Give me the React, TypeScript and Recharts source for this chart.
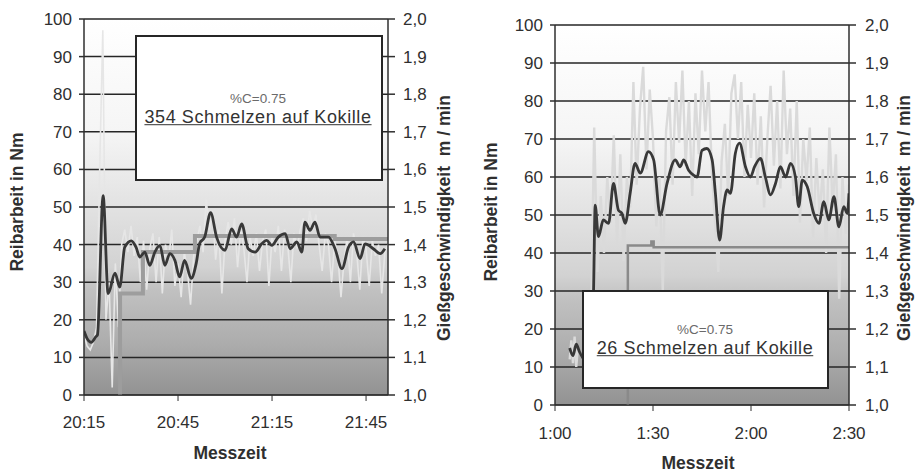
import { ComposedChart, Line, XAxis, YAxis, CartesianGrid } from "recharts";

const FONT = '"Liberation Sans", Arial, sans-serif';
const INK = "#2f2f2f";
const GRID = "#262626";
const TORQUE = "#383838";

const NM_TICKS = [0, 10, 20, 30, 40, 50, 60, 70, 80, 90, 100];
const SPEED_TICKS = [1.0, 1.1, 1.2, 1.3, 1.4, 1.5, 1.6, 1.7, 1.8, 1.9, 2.0];
const TIME_TICKS = [0, 30, 60, 90];

// Panel 1: minutes after 20:15
const A_LABELS = ["20:15", "20:45", "21:15", "21:45"];
const A_TORQUE_T = [0, 1, 2.3, 3.8, 4.3, 6.1, 7.7, 9.9, 11.4, 13, 15.1, 16.6, 17.8, 19.4, 21, 22.6, 24.2, 25.8, 27.4, 29, 30.5, 32.1, 34.2, 35.8, 36.9, 38.5, 40.4, 42.3, 45, 47.1, 48.7, 50.3, 52.4, 54.6, 56.7, 58.3, 59.9, 62, 64.2, 65.8, 67.9, 69.5, 70.5, 72.1, 73.7, 75.3, 78, 80.1, 82.3, 84.4, 86, 88.1, 89.7, 92.3, 94.5, 96];
const A_TORQUE = [17, 15, 14, 15.5, 16, 53, 27, 32.4, 28.7, 39.3, 41, 39.3, 36.7, 38, 34.5, 38, 39.8, 34.5, 37.6, 35.8, 31.4, 35.8, 31, 35, 40.3, 42, 48.5, 42, 38.5, 44.2, 42, 45.5, 38.9, 38, 40.2, 41.1, 39.8, 42, 42.9, 38.9, 40.7, 38, 46, 43.8, 46, 42, 42, 38.9, 33.6, 39.3, 40.7, 36.3, 40.2, 38.9, 37.6, 38.9];
const A_RAW_T = [0, 1, 2, 3, 4, 5, 6, 7, 8, 9, 10, 11, 12, 13, 14, 15, 16, 17, 18, 19, 20, 21, 22, 23, 24, 25, 26, 27, 28, 29, 30, 31, 32, 33, 34, 35, 36, 37, 38, 39, 40, 41, 42, 43, 44, 45, 46, 47, 48, 49, 50, 51, 52, 53, 54, 55, 56, 57, 58, 59, 60, 61, 62, 63, 64, 65, 66, 67, 68, 69, 70, 71, 72, 73, 74, 75, 76, 77, 78, 79, 80, 81, 82, 83, 84, 85, 86, 87, 88, 89, 90, 91, 92, 93, 94, 95, 96, 97];
const A_RAW = [16, 13, 12, 14, 18, 60, 97, 20, 30, 2, 35, 18, 40, 44, 38, 45, 37, 42, 30, 41, 28, 39, 43, 30, 42, 27, 40, 36, 44, 29, 35, 26, 38, 33, 24, 37, 41, 45, 38, 52, 44, 49, 36, 44, 27, 41, 46, 40, 47, 34, 44, 39, 30, 42, 37, 43, 33, 41, 44, 29, 42, 38, 45, 33, 44, 40, 30, 43, 39, 44, 47, 41, 49, 44, 48, 40, 33, 43, 40, 30, 41, 37, 26, 36, 42, 30, 43, 38, 28, 42, 39, 29, 41, 37, 40, 27, 38, 40];
const A_SPEED_T = [0, 11.5, 18.8, 35.4, 80, 97];
const A_SPEED = [0.9, 1.27, 1.38, 1.423, 1.415, 1.415];

// Panel 2: minutes after 1:00
const B_LABELS = ["1:00", "1:30", "2:00", "2:30"];
const B_TORQUE_T = [4.5, 5.5, 6.5, 7.5, 9, 11, 11.8, 12.3, 13.3, 14.8, 16.4, 17.9, 19.4, 20.5, 21.5, 23, 24.5, 26.1, 28.6, 30.2, 32.2, 34.3, 36.8, 38.3, 39.4, 40.9, 42.4, 43.5, 45, 46.5, 48.1, 49.1, 50.4, 51.6, 52.7, 53.7, 55.2, 56.5, 58.3, 59.8, 61.1, 62.9, 64.4, 66, 67.5, 69, 70.6, 72.1, 73.6, 74.6, 75.7, 77.2, 79.2, 80.8, 82.3, 83.8, 85.4, 86.9, 88.4, 89.5, 90];
const B_TORQUE = [15, 13, 16, 14, 12, 12, 30, 52.6, 44.3, 48.7, 47.8, 58.3, 51.3, 50.4, 47.8, 55.7, 63.6, 61, 66.7, 64.5, 50, 58.3, 64.5, 62.7, 64.5, 61.8, 60.5, 60, 67, 67.5, 64.5, 55.7, 43.4, 52.2, 56.6, 55.7, 66.2, 68.9, 62.7, 60, 62.7, 64.9, 60, 55.3, 58.3, 62.7, 60, 63.6, 60, 52.2, 59.2, 57.5, 50.4, 47.8, 53.5, 48.7, 54.8, 46.9, 52.2, 50.4, 55.7];
const B_RAW_T = [4.5, 5, 5.5, 6, 6.5, 7, 8, 9, 10, 11, 12, 13, 14, 15, 16, 17, 18, 19, 20, 21, 22, 23, 24, 25, 26, 27, 28, 29, 30, 31, 32, 33, 34, 35, 36, 37, 38, 39, 40, 41, 42, 43, 44, 45, 46, 47, 48, 49, 50, 51, 52, 53, 54, 55, 56, 57, 58, 59, 60, 61, 62, 63, 64, 65, 66, 67, 68, 69, 70, 71, 72, 73, 74, 75, 76, 77, 78, 79, 80, 81, 82, 83, 84, 85, 86, 87, 88, 89, 90];
const B_RAW = [12, 17, 11, 18, 10, 15, 13, 14, 12, 20, 73, 35, 55, 40, 60, 48, 71, 42, 66, 38, 60, 52, 85, 58, 78, 89, 62, 83, 70, 47, 60, 30, 72, 81, 58, 85, 69, 88, 63, 80, 55, 82, 66, 88, 72, 85, 62, 48, 35, 64, 74, 55, 82, 87, 70, 85, 60, 79, 65, 82, 58, 76, 52, 70, 84, 63, 80, 57, 88, 66, 78, 55, 80, 48, 70, 59, 73, 44, 65, 50, 62, 40, 73, 52, 66, 28, 60, 45, 58];
const B_SPEED_T = [0, 22.3, 29.5, 30.2, 90];
const B_SPEED = [0.9, 1.42, 1.43, 1.415, 1.415];

const rows = (t: number[], v: number[]) => t.map((x, i) => ({ t: x, v: v[i] }));

const tickStyle = { fill: INK, fontSize: 17, fontFamily: FONT };

function Panel(props: {
  id: string;
  left: number;
  width: number;
  margin: { top: number; right: number; bottom: number; left: number };
  leftW: number;
  rightW: number;
  yTickMargin: number;
  rTickMargin: number;
  xTickMargin: number;
  xMax: number;
  labels: string[];
  torque: { t: number; v: number }[];
  raw: { t: number; v: number }[];
  rawColor: string;
  rawW: number;
  speed: { t: number; v: number }[];
  speedW: number;
  speedColor: string;
}) {
  const p = props;
  return (
    <div style={{ position: "absolute", left: p.left, top: 0 }}>
      <ComposedChart width={p.width} height={473} margin={p.margin}>
        <defs>
          <linearGradient id={p.id} x1="0" y1="0" x2="0" y2="1">
            <stop offset="0%" stopColor="#ffffff" />
            <stop offset="30%" stopColor="#f5f5f5" />
            <stop offset="50%" stopColor="#e2e2e2" />
            <stop offset="66%" stopColor="#d2d2d2" />
            <stop offset="72%" stopColor="#c1c1c1" />
            <stop offset="86%" stopColor="#adadad" />
            <stop offset="100%" stopColor="#929292" />
          </linearGradient>
        </defs>
        <CartesianGrid
          yAxisId="nm"
          vertical={false}
          stroke={GRID}
          strokeWidth={1.5}
          fill={`url(#${p.id})`}
          fillOpacity={1}
        />
        <XAxis
          type="number"
          dataKey="t"
          domain={[0, p.xMax]}
          ticks={TIME_TICKS}
          tickFormatter={(v: number) => p.labels[Math.round(v / 30)]}
          tick={tickStyle}
          tickSize={6}
          tickMargin={p.xTickMargin}
          stroke={INK}
          height={40}
          allowDataOverflow
          interval={0}
        />
        <YAxis
          yAxisId="nm"
          domain={[0, 100]}
          ticks={NM_TICKS}
          tick={tickStyle}
          tickSize={5}
          tickMargin={p.yTickMargin}
          stroke={INK}
          strokeWidth={1.5}
          width={p.leftW}
          interval={0}
        />
        <YAxis
          yAxisId="speed"
          orientation="right"
          domain={[1, 2]}
          ticks={SPEED_TICKS}
          tickFormatter={(v: number) => v.toFixed(1).replace(".", ",")}
          tick={tickStyle}
          tickSize={7}
          tickMargin={p.rTickMargin}
          stroke={INK}
          strokeWidth={1.5}
          width={p.rightW}
          allowDataOverflow
          interval={0}
        />
        <Line
          yAxisId="nm"
          data={p.raw}
          dataKey="v"
          stroke={p.rawColor}
          strokeWidth={p.rawW}
          dot={false}
          isAnimationActive={false}
        />
        <Line
          yAxisId="speed"
          data={p.speed}
          dataKey="v"
          type="stepAfter"
          stroke={p.speedColor}
          strokeWidth={p.speedW}
          dot={false}
          isAnimationActive={false}
        />
        <Line
          yAxisId="nm"
          data={p.torque}
          dataKey="v"
          type="monotone"
          stroke={TORQUE}
          strokeWidth={2.8}
          dot={false}
          isAnimationActive={false}
        />
      </ComposedChart>
    </div>
  );
}

function Title(props: { x: number; y: number; text: string; rotate?: boolean }) {
  return (
    <div
      style={{
        position: "absolute",
        left: props.x,
        top: props.y,
        transform: `translate(-50%, -50%)${props.rotate ? " rotate(-90deg)" : ""}`,
        whiteSpace: "pre",
        fontFamily: FONT,
        fontWeight: 700,
        fontSize: 17.5,
        color: INK,
        lineHeight: 1,
      }}
    >
      {props.text}
    </div>
  );
}

function Note(props: { x: number; y: number; w: number; h: number; cx: number; y1: number; y2: number; text: string }) {
  const p = props;
  return (
    <>
      <div
        style={{
          position: "absolute",
          left: p.x,
          top: p.y,
          width: p.w,
          height: p.h,
          background: "#ffffff",
          border: "2px solid #262626",
          boxSizing: "border-box",
        }}
      />
      <div
        style={{
          position: "absolute",
          left: p.cx,
          top: p.y1,
          transform: "translate(-50%, -50%)",
          fontFamily: FONT,
          fontSize: 13.5,
          color: "#6a6a6a",
          whiteSpace: "nowrap",
          lineHeight: 1,
        }}
      >
        %C=0.75
      </div>
      <div
        style={{
          position: "absolute",
          left: p.cx,
          top: p.y2,
          transform: "translate(-50%, -50%)",
          fontFamily: FONT,
          fontSize: 18,
          letterSpacing: 0.6,
          color: "#333333",
          textDecoration: "underline",
          whiteSpace: "nowrap",
          lineHeight: 1.2,
        }}
      >
        {p.text}
      </div>
    </>
  );
}

export default function App() {
  return (
    <div style={{ position: "absolute", left: 0, top: 0, width: 918, height: 473, background: "#ffffff", overflow: "hidden" }}>
      <Panel
        id="bgA"
        left={0}
        width={460}
        margin={{ top: 19, right: 12, bottom: 38, left: 0 }}
        leftW={84}
        rightW={60}
        yTickMargin={7}
        rTickMargin={8}
        xTickMargin={15}
        xMax={97}
        labels={A_LABELS}
        torque={rows(A_TORQUE_T, A_TORQUE)}
        raw={rows(A_RAW_T, A_RAW)}
        rawColor="#e6e6e6"
        rawW={1.6}
        speed={rows(A_SPEED_T, A_SPEED)}
        speedW={4}
        speedColor="#9d9d9d"
      />
      <Panel
        id="bgB"
        left={460}
        width={458}
        margin={{ top: 25, right: 14, bottom: 28, left: 0 }}
        leftW={95}
        rightW={55}
        yTickMargin={7}
        rTickMargin={9}
        xTickMargin={16}
        xMax={90}
        labels={B_LABELS}
        torque={rows(B_TORQUE_T, B_TORQUE)}
        raw={rows(B_RAW_T, B_RAW)}
        rawColor="#dadada"
        rawW={2.4}
        speed={rows(B_SPEED_T, B_SPEED)}
        speedW={2.5}
        speedColor="#8a8a8a"
      />
      <Note x={135} y={35} w={248} h={146} cx={258} y1={99} y2={118} text="354 Schmelzen auf Kokille" />
      <Note x={582} y={290} w={247} h={99} cx={705} y1={330} y2={349} text="26 Schmelzen auf Kokille" />
      <Title x={18} y={202} text="Reibarbeit in Nm" rotate />
      <Title x={445} y={218} text="Gießgeschwindigkeit  m / min" rotate />
      <Title x={230} y={454} text="Messzeit" />
      <Title x={492} y={212} text="Reibarbeit in Nm" rotate />
      <Title x={905} y={218} text="Gießgeschwindigkeit  m / min" rotate />
      <Title x={698} y={464} text="Messzeit" />
    </div>
  );
}
